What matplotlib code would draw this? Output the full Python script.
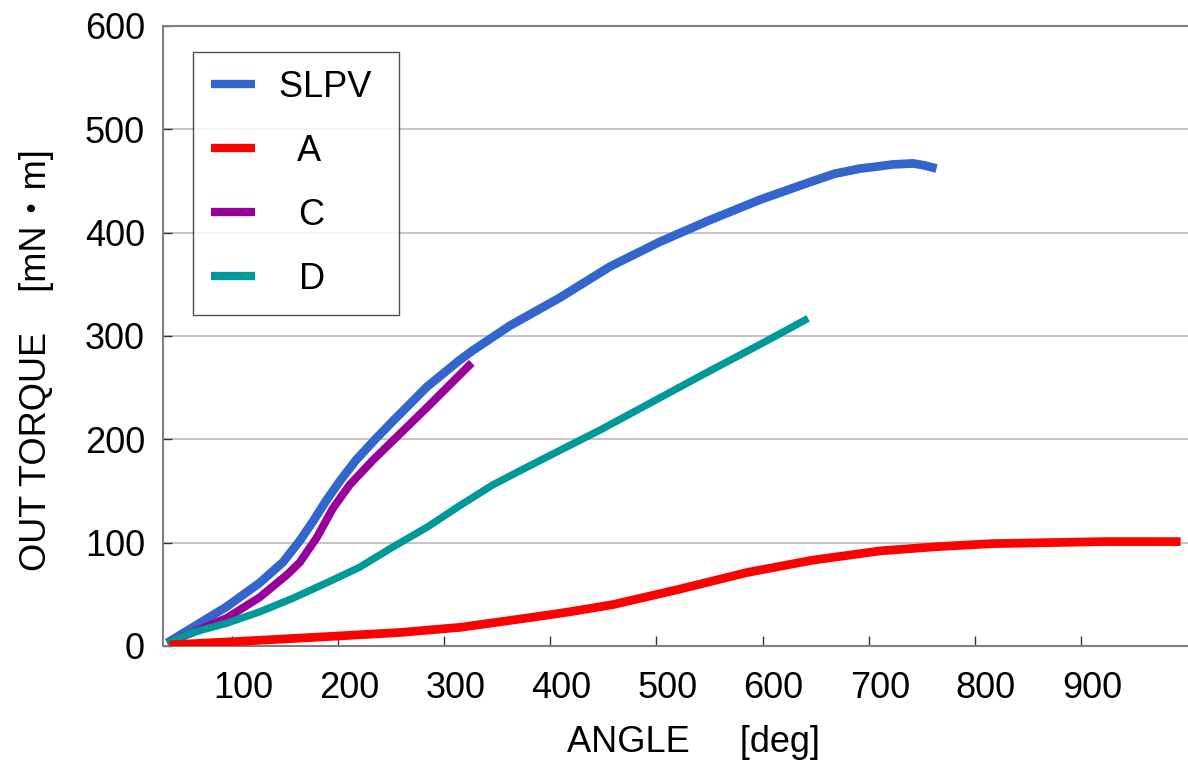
import matplotlib
matplotlib.use('Agg')
import matplotlib.pyplot as plt
import matplotlib.transforms as mtransforms

plt.rcParams['font.family'] = ['Liberation Sans', 'Noto Sans CJK JP']

# curves: angle [deg], torque [mN・m]
slpv_angle = [39, 63, 95, 126, 148, 164, 176, 189, 202, 217, 235, 252, 284, 315,
              327, 362, 409, 456, 503, 550, 598, 645, 668, 692, 708, 723, 742,
              753, 764]
slpv_torque = [3, 18, 38, 61, 81, 102, 120, 141, 160, 180, 200, 218, 251, 277,
               286, 310, 337, 367, 391, 412, 432, 449, 457, 462, 464, 466, 467,
               465, 462]

a_angle = [41, 117, 189, 258, 315, 378, 418, 459, 522, 585, 647, 711, 763, 816,
           870, 923, 994]
a_torque = [1, 5, 9, 13, 18, 27, 33, 40, 55, 71, 83, 92, 96, 99, 100, 101, 101]

c_angle = [39, 63, 95, 126, 152, 164, 180, 195, 211, 233, 252, 284, 326]
c_torque = [3, 13, 27, 47, 69, 81, 105, 133, 156, 180, 199, 231, 274]

d_angle = [39, 63, 95, 126, 157, 189, 220, 252, 284, 315, 346, 378, 397, 447,
           503, 550, 598, 643]
d_torque = [3, 13, 22, 33, 46, 61, 76, 96, 115, 136, 156, 173, 183, 209,
            240, 266, 292, 317]

x_ticks = [100, 200, 300, 400, 500, 600, 700, 800, 900]
y_ticks = [0, 100, 200, 300, 400, 500, 600]

fig = plt.figure(figsize=(11.88, 7.64), dpi=100)
ax = fig.add_axes([0.1372, 0.1545, 0.8628, 0.8115])

ax.plot(slpv_angle, slpv_torque, color='#3366CC', lw=6.3, label='SLPV ',
        solid_capstyle='butt', solid_joinstyle='round', zorder=2)
ax.plot(a_angle, a_torque, color='#FF0000', lw=6.3, label='  A',
        solid_capstyle='butt', solid_joinstyle='round', zorder=5)
ax.plot(c_angle, c_torque, color='#990099', lw=5.8, label='  C',
        solid_capstyle='butt', solid_joinstyle='round', zorder=3)
ax.plot(d_angle, d_torque, color='#009999', lw=5.3, label='  D',
        solid_capstyle='butt', solid_joinstyle='round', zorder=4)

ax.set_xlim(35, 1001)
ax.set_ylim(0, 600)
ax.set_xticks(x_ticks)
ax.set_yticks(y_ticks)
ax.yaxis.grid(True, color='#c0c0c0', lw=1.3)
ax.set_axisbelow(True)

for side in ['left', 'bottom', 'top']:
    ax.spines[side].set_color('#808080')
    ax.spines[side].set_linewidth(1.5)
ax.spines['right'].set_visible(False)

ax.tick_params(axis='both', direction='in', labelsize=26, color='#333333', width=1)
ax.tick_params(axis='x', length=7, pad=18)
ax.tick_params(axis='y', length=6.5, pad=13)
shift = mtransforms.ScaledTranslation(8 / 72, 0, fig.dpi_scale_trans)
for lbl in ax.get_xticklabels():
    lbl.set_transform(lbl.get_transform() + shift)

ax.set_xlabel('ANGLE     [deg]', fontsize=26)
ax.xaxis.set_label_coords(0.518, -0.128)
ax.set_ylabel('OUT TORQUE    [mN・m]', fontsize=26)
ax.yaxis.set_label_coords(-0.106, 0.461)

leg = ax.legend(loc='upper left', bbox_to_anchor=(0.029, 0.958), borderaxespad=0,
                fontsize=26, frameon=True, fancybox=False, edgecolor='#222222',
                handlelength=1.22, handletextpad=0.66, labelspacing=0.8,
                borderpad=0.5)
leg.get_frame().set_linewidth(1.0)
for line in leg.get_lines():
    line.set_linewidth(6)

fig.savefig('out.png', dpi=100)
